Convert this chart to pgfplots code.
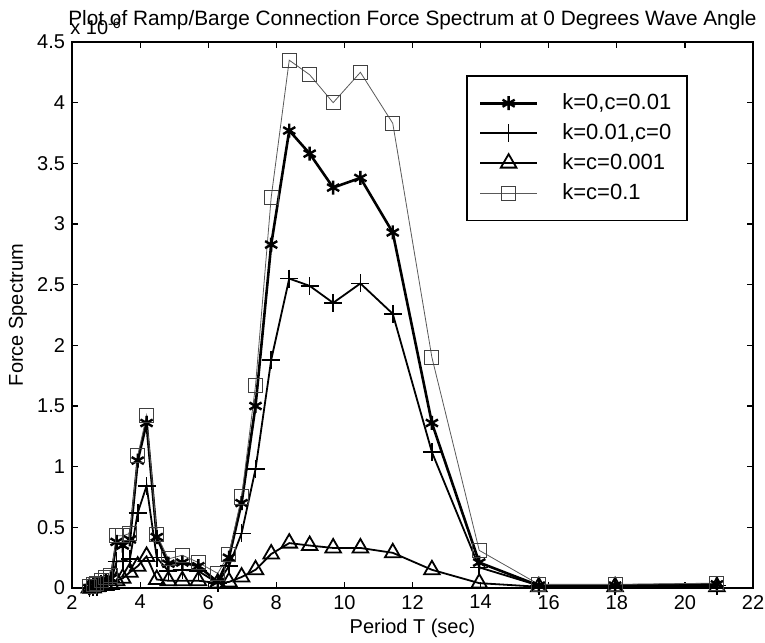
\documentclass[border=0pt]{standalone}
\usepackage{pgfplots}
\pgfplotsset{compat=1.18}
\usepackage{pgfplotstable}
\usepackage{fontspec}
\setmainfont{Liberation Sans}
\pgfplotstableread{
T A B C D
2.51 0.00 0.00 0.00 0.01
2.62 0.01 0.01 0.00 0.03
2.73 0.02 0.01 0.01 0.04
2.86 0.04 0.03 0.02 0.06
2.99 0.06 0.04 0.02 0.09
3.14 0.08 0.05 0.03 0.10
3.31 0.38 0.22 0.06 0.43
3.49 0.35 0.22 0.08 0.43
3.70 0.40 0.24 0.13 0.45
3.93 1.05 0.62 0.18 1.09
4.19 1.36 0.84 0.26 1.42
4.49 0.42 0.25 0.07 0.44
4.83 0.20 0.14 0.06 0.24
5.24 0.21 0.15 0.06 0.27
5.71 0.18 0.14 0.06 0.21
6.28 0.05 0.04 0.04 0.12
6.61 0.25 0.18 0.05 0.28
6.98 0.70 0.45 0.09 0.75
7.39 1.50 0.98 0.15 1.67
7.85 2.83 1.88 0.28 3.22
8.38 3.77 2.55 0.37 4.35
8.98 3.58 2.49 0.35 4.23
9.67 3.30 2.35 0.33 4.00
10.47 3.38 2.51 0.33 4.25
11.42 2.93 2.26 0.29 3.83
12.57 1.36 1.12 0.15 1.90
13.96 0.21 0.17 0.04 0.31
15.71 0.02 0.02 0.01 0.03
17.95 0.02 0.02 0.01 0.03
20.94 0.03 0.02 0.01 0.04
}\data
\begin{document}
\begin{tikzpicture}
\path[use as bounding box] (-36pt,-27pt) rectangle (346.5pt,294pt);
\begin{axis}[
  scale only axis, width=340.5pt, height=273pt,
  xmin=2, xmax=22, ymin=0, ymax=4.5,
  xtick={2,4,...,22}, ytick={0,0.5,...,4.5},
  tick align=inside, tick pos=both, major tick length=3pt,
  axis line style={line width=0.9pt}, tick style={line width=0.6pt, black},
  /pgf/number format/assume math mode=true,
  yticklabel style={/pgf/number format/fixed},
  tick label style={font=\fontsize{10}{12}\selectfont},
  label style={font=\fontsize{10}{12}\selectfont},
  xlabel={Period T (sec)},
  ylabel={Force Spectrum},
  ylabel style={at={(axis description cs:0,0.5)}, anchor=center, rotate=0, yshift=27pt},
  xlabel style={at={(axis description cs:0.5,0)}, anchor=center, yshift=-20pt},
  legend style={at={(0.9046,0.9396)}, anchor=north east, draw=black, line width=0.8pt,
    font=\fontsize{11}{13}\selectfont, row sep=1.5pt, inner xsep=6pt, inner ysep=7pt,
    /tikz/every odd column/.append style={column sep=10pt}},
  legend cell align=left,
  legend image code/.code={\draw[mark repeat=2,mark phase=2] plot coordinates {(0cm,0cm) (0.5cm,0cm) (1cm,0cm)};},
  clip=false,
]
\addplot[black, line width=1.3pt, mark=asterisk, mark size=3.5pt, mark options={line width=1.2pt}] table[x=T,y=A] {\data};
\addlegendentry{k=0,c=0.01}
\addplot[black, line width=0.9pt, mark=+, mark size=4.5pt, mark options={line width=0.8pt}] table[x=T,y=B] {\data};
\addlegendentry{k=0.01,c=0}
\addplot[black, line width=0.9pt, mark=triangle, mark size=4.5pt, mark options={line width=0.9pt}] table[x=T,y=C] {\data};
\addlegendentry{k=c=0.001}
\addplot[black!65, line width=0.4pt, mark=square, mark size=3.5pt, mark options={line width=0.5pt, black!75}] table[x=T,y=D] {\data};
\addlegendentry{k=c=0.1}
\node[font=\fontsize{10.4}{12}\selectfont] at ([yshift=11pt]rel axis cs:0.5,1) {Plot of Ramp/Barge Connection Force Spectrum at 0 Degrees Wave Angle};
\node[font=\fontsize{10}{12}\selectfont, anchor=west, inner sep=0pt] at ([xshift=-1pt,yshift=7.5pt]rel axis cs:0,1) {x 10\raisebox{0.6ex}{\fontsize{7}{8}\selectfont -6}};
\end{axis}
\end{tikzpicture}
\end{document}
